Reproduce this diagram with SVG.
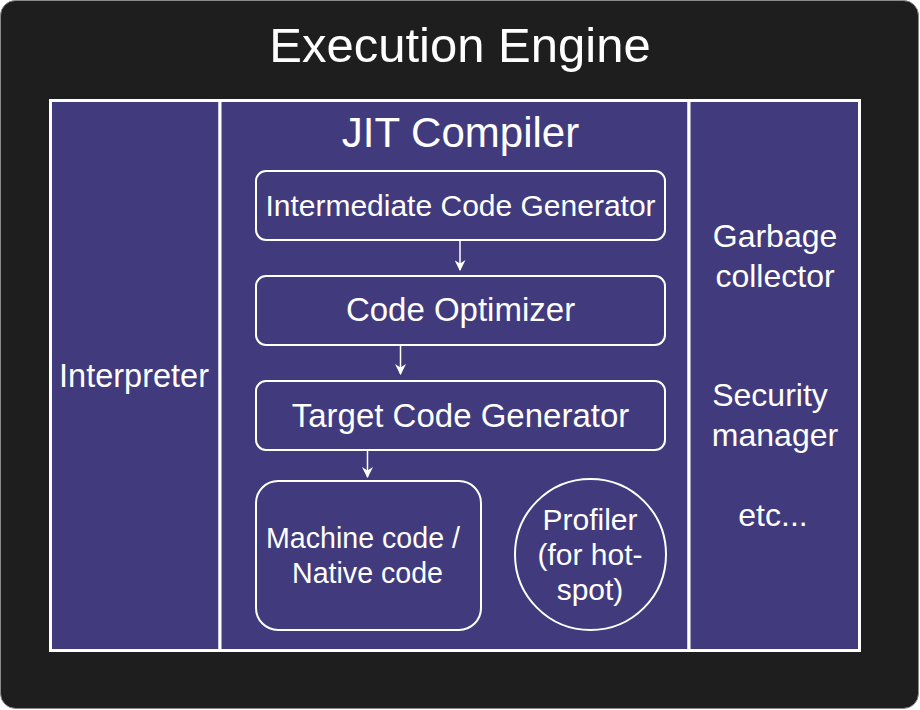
<svg xmlns="http://www.w3.org/2000/svg" width="920" height="710" viewBox="0 0 920 710">
<style>
text{font-family:"Liberation Sans",sans-serif;fill:#ffffff;text-anchor:middle}
.panel{fill:#413b7e;stroke:#ffffff;stroke-width:3}
.box{fill:#413b7e;stroke:#ffffff;stroke-width:2}
.conn{stroke:#ffffff;stroke-width:1.5;fill:none}
</style>
<defs>
<marker id="arr" viewBox="0 0 10 10" refX="9" refY="5" markerWidth="11" markerHeight="11" markerUnits="userSpaceOnUse" orient="auto">
<path d="M0,0 L10,5 L0,10 L3,5 Z" fill="#ffffff"/>
</marker>
</defs>
<g id="engine">
<rect x="0.5" y="0.5" width="918" height="708" rx="15" fill="#1e1e1e" stroke="#8a8a8a" stroke-width="1"/>
<text x="460" y="62" font-size="49">Execution Engine</text>
</g>
<g id="interpreter">
<rect class="panel" x="50.5" y="100.5" width="169.5" height="550"/>
<text x="134" y="387" font-size="32.5">Interpreter</text>
</g>
<g id="jit">
<rect class="panel" x="220" y="100.5" width="469" height="550"/>
<text x="460.5" y="147" font-size="42">JIT Compiler</text>
</g>
<g id="others">
<rect class="panel" x="689" y="100.5" width="170.5" height="550"/>
<text x="775" y="247" font-size="32">Garbage</text>
<text x="775" y="287" font-size="32">collector</text>
<text x="770" y="406" font-size="32">Security</text>
<text x="775" y="446" font-size="32">manager</text>
<text x="773" y="526" font-size="32">etc...</text>
</g>
<g id="icg">
<rect class="box" x="256" y="171" width="409" height="69" rx="10"/>
<text x="460.5" y="216" font-size="30">Intermediate Code Generator</text>
</g>
<g id="optimizer">
<rect class="box" x="256" y="276" width="409" height="69" rx="10"/>
<text x="460.5" y="321" font-size="33">Code Optimizer</text>
</g>
<g id="tcg">
<rect class="box" x="256" y="381" width="409" height="69" rx="10"/>
<text x="460.5" y="427" font-size="33">Target Code Generator</text>
</g>
<g id="machine">
<rect class="box" x="256" y="481" width="225" height="149" rx="22"/>
<text x="363" y="548" font-size="28.6">Machine code /</text>
<text x="367.5" y="583" font-size="28.6">Native code</text>
</g>
<g id="profiler">
<circle class="box" cx="590.5" cy="554.5" r="75.5"/>
<text x="590" y="530" font-size="30">Profiler</text>
<text x="590" y="565" font-size="30">(for hot-</text>
<text x="590" y="600" font-size="30">spot)</text>
</g>
<g id="connectors">
<line class="conn" x1="460" y1="241" x2="460" y2="270" marker-end="url(#arr)"/>
<line class="conn" x1="400.5" y1="346" x2="400.5" y2="374" marker-end="url(#arr)"/>
<line class="conn" x1="367.5" y1="451" x2="367.5" y2="477" marker-end="url(#arr)"/>
</g>
</svg>
